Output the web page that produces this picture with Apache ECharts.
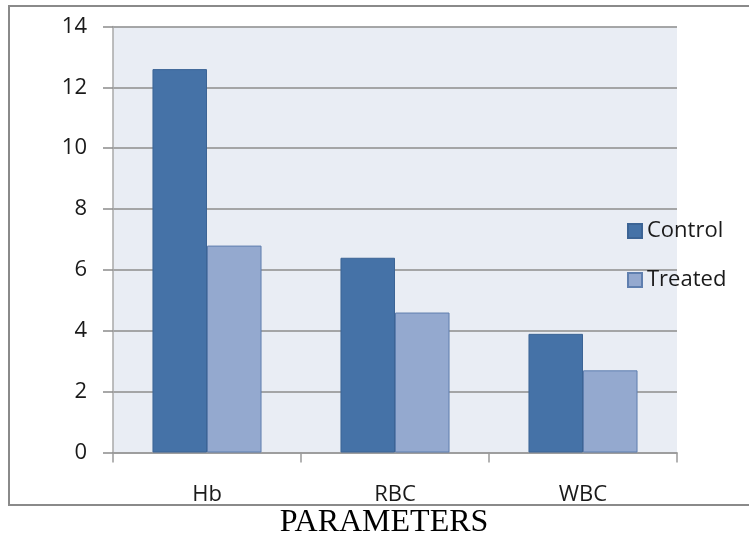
<!DOCTYPE html>
<html>
<head>
<meta charset="utf-8">
<script src="https://cdn.jsdelivr.net/npm/echarts@6/dist/echarts.min.js"></script>
<style>
  html, body { margin: 0; padding: 0; background: #fff; }
  #chart { width: 749px; height: 541px; }
</style>
</head>
<body>
<div id="chart"></div>
<script>
    var categories = ['Hb', 'RBC', 'WBC'];
    var controlValues = [12.6, 6.4, 3.9];
    var treatedValues = [6.8, 4.6, 2.7];
    var yTicks = [0, 14, 2]; // min, max, interval

    var labelFont = 'Open Sans';
    var myChart = echarts.init(document.getElementById('chart'));
    myChart.setOption({
        backgroundColor: '#fff',
        animation: false,
        graphic: [
            {
                type: 'rect',
                shape: { x: 9, y: 6, width: 760, height: 499 },
                style: { fill: 'none', stroke: '#8a8a8a', lineWidth: 2 },
                z: 0
            },
            {
                type: 'text',
                x: 384,
                y: 507,
                style: {
                    text: 'PARAMETERS',
                    font: '32px "Liberation Serif", "Times New Roman", serif',
                    fill: '#000',
                    align: 'center',
                    verticalAlign: 'top'
                }
            }
        ],
        grid: {
            left: 113,
            right: 72,
            top: 26.5,
            bottom: 88.5,
            show: true,
            backgroundColor: '#E9EDF4',
            borderWidth: 0
        },
        legend: {
            orient: 'vertical',
            left: 627,
            top: 219,
            padding: 0,
            itemWidth: 14,
            itemHeight: 14,
            itemGap: 25,
            icon: 'rect',
            textStyle: {
                fontFamily: labelFont,
                fontSize: 22,
                lineHeight: 24,
                color: '#1a1a1a'
            },
            data: ['Control', 'Treated']
        },
        xAxis: {
            type: 'category',
            data: categories,
            boundaryGap: true,
            axisLine: { show: true, lineStyle: { color: '#9a9a9a', width: 1.5 } },
            axisTick: { show: true, length: 10, interval: 0, lineStyle: { color: '#9a9a9a', width: 1.5 } },
            axisLabel: {
                margin: 31,
                fontFamily: labelFont,
                fontSize: 22,
                color: '#1a1a1a'
            },
            splitLine: { show: false }
        },
        yAxis: {
            type: 'value',
            min: yTicks[0],
            max: yTicks[1],
            interval: yTicks[2],
            axisLine: { show: true, lineStyle: { color: '#a8a8a8', width: 1.5 } },
            axisTick: { show: true, length: 10, lineStyle: { color: '#8c8c8c', width: 1.5 } },
            axisLabel: {
                margin: 26,
                fontFamily: labelFont,
                fontSize: 22,
                color: '#1a1a1a'
            },
            splitLine: { show: true, lineStyle: { color: '#8c8c8c', width: 1.5 } }
        },
        series: [
            {
                name: 'Control',
                type: 'bar',
                data: controlValues,
                barGap: '0%',
                barCategoryGap: '42%',
                itemStyle: { color: '#4572A7', borderColor: '#3C6495', borderWidth: 1 }
            },
            {
                name: 'Treated',
                type: 'bar',
                data: treatedValues,
                itemStyle: { color: '#94A9CF', borderColor: '#5F7FAF', borderWidth: 1 }
            }
        ]
    });
</script>
</body>
</html>
